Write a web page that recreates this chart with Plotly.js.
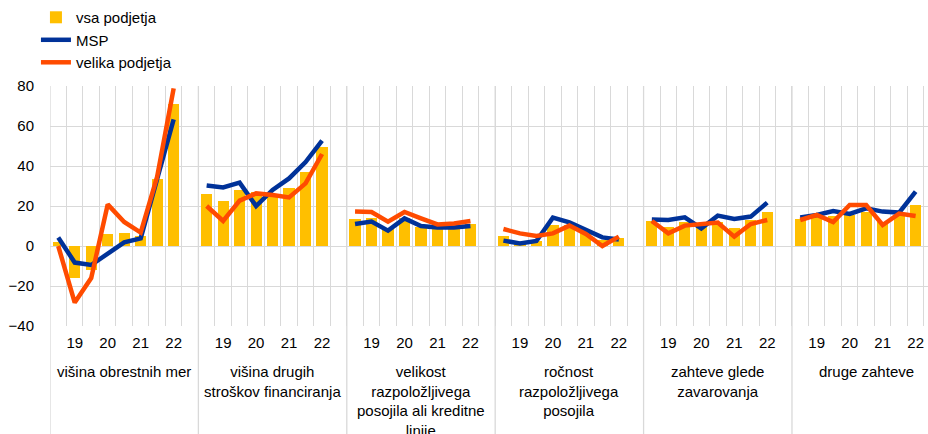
<!DOCTYPE html>
<html>
<head>
<meta charset="utf-8">
<script src="https://cdn.plot.ly/plotly-3.0.1.min.js"></script>
<style>html,body{margin:0;padding:0;background:#fff;}#chart{width:928px;height:434px;}</style>
</head>
<body>
<div id="chart"></div>
<script>
// Categories (groups) shown below the axis
const categories = [
  "višina obrestnih mer",
  "višina drugih<br>stroškov financiranja",
  "velikost<br>razpoložljivega<br>posojila ali kreditne<br>linije",
  "ročnost<br>razpoložljivega<br>posojila",
  "zahteve glede<br>zavarovanja",
  "druge zahteve"
];
// Year tick labels within each group (at period index 1,3,5,7)
const yearLabels = ["19", "20", "21", "22"];
const yearLabelIdx = [1, 3, 5, 7];

// vsa podjetja (bars), per group, 8 half-year periods
const allFirms = [
  [2, -16, -12, 6, 6.5, 5, 33.5, 71],
  [25.8, 22.3, 28, 27, 25, 29, 37, 49.3],
  [13.5, 13.8, 9, 13.8, 9.7, 10, 10, 11],
  [5, 2, 2.5, 10.5, 10.5, 6.3, 3, 3.8],
  [12.5, 9.7, 12, 9.7, 12, 8.8, 13, 16.8],
  [13.5, 15.5, 15, 15.5, 17.2, 12, 15.5, 20.5]
];
// MSP (lines)
const sme = [
  [4.3, -8.3, -9.5, -4, 1.8, 3.8, 33, 63.3],
  [30.3, 29.3, 31.7, 20, 28, 33.8, 42, 52.7],
  [11, 12.2, 7.7, 13.8, 10, 9.2, 9.2, 10],
  [2.7, 1.3, 2.5, 14.2, 11.8, 8, 4.3, 3.3],
  [13.3, 13, 14.3, 8.8, 15.2, 13.5, 14.7, 21.7],
  [14.3, 15.5, 17.5, 16, 18.8, 17.2, 16.7, 27.2]
];
// velika podjetja (lines)
const large = [
  [0, -28.3, -16, 20.8, 12, 6.7, 34.7, 78.8],
  [20, 12.5, 22.7, 26.3, 25.5, 24.3, 31.3, 46],
  [17.2, 17, 12.2, 17, 13.8, 10.8, 11.3, 12.5],
  [8.5, 6.3, 5, 6.3, 10.2, 6, 0, 4.7],
  [12.5, 6.3, 10.2, 11, 11.7, 4.7, 11, 13],
  [13, 15.5, 12, 20.5, 20.5, 10.5, 16.2, 15]
];

const SLOTS = 9; // 8 periods + 1 empty slot per group
const FONT = "Liberation Sans, Arial, sans-serif";

// Build x positions (with null breaks between groups for lines)
const barX = [], barY = [];
const lineX = [], smeY = [], largeY = [];
allFirms.forEach((grp, g) => {
  grp.forEach((v, s) => {
    const x = g * SLOTS + s + 0.5;
    barX.push(x); barY.push(v);
    lineX.push(x); smeY.push(sme[g][s]); largeY.push(large[g][s]);
  });
  lineX.push(g * SLOTS + 8.5); smeY.push(null); largeY.push(null);
});

const tickvals = [], ticktext = [];
categories.forEach((c, g) => {
  yearLabelIdx.forEach((s, k) => {
    tickvals.push(g * SLOTS + s + 0.5);
    ticktext.push(yearLabels[k]);
  });
});

const traces = [
  {type: "bar", name: "vsa podjetja", x: barX, y: barY, width: 0.68,
   marker: {color: "#FFBF00"}, hoverinfo: "skip"},
  {type: "scatter", mode: "lines", name: "MSP", x: lineX, y: smeY,
   connectgaps: false, line: {color: "#003299", width: 4.5}, hoverinfo: "skip"},
  {type: "scatter", mode: "lines", name: "velika podjetja", x: lineX, y: largeY,
   connectgaps: false, line: {color: "#FF4B00", width: 4.5}, hoverinfo: "skip"}
];

const shapes = categories.map((c, g) => ({
  type: "line", xref: "x", yref: "paper",
  x0: g * SLOTS, x1: g * SLOTS, y0: -0.45, y1: 1,
  line: {color: "#D9D9D9", width: 1.3}, layer: "below"
}));

const annotations = categories.map((c, g) => ({
  text: c, xref: "x", yref: "paper", x: g * SLOTS + 4.5, y: -0.146,
  xanchor: "center", yanchor: "top", showarrow: false, align: "center",
  font: {family: FONT, size: 15, color: "#000"}
}));

const layout = {
  width: 928, height: 434,
  margin: {l: 50, r: 0, t: 86, b: 108, pad: 0},
  paper_bgcolor: "#fff", plot_bgcolor: "#fff",
  font: {family: FONT, size: 15, color: "#000"},
  showlegend: true,
  legend: {x: -0.016, y: 1.354, xanchor: "left", yanchor: "top",
    bgcolor: "rgba(0,0,0,0)", font: {family: FONT, size: 15, color: "#000"},
    tracegroupgap: 0, itemwidth: 30},
  bargap: 0,
  xaxis: {
    range: [0, 53.25], tickmode: "array", tickvals: tickvals, ticktext: ticktext,
    showgrid: false, zeroline: false, showline: false,
    ticks: "outside", ticklen: 3, tickcolor: "rgba(0,0,0,0)",
    tickfont: {family: FONT, size: 15, color: "#000"},
    minor: {tickmode: "linear", tick0: 0, dtick: 1, showgrid: true,
      gridcolor: "#D9D9D9", gridwidth: 1, ticks: ""}
  },
  yaxis: {
    range: [-40, 80], tickmode: "linear", tick0: -40, dtick: 20,
    showgrid: true, gridcolor: "#D9D9D9", gridwidth: 1,
    zeroline: true, zerolinecolor: "#D9D9D9", zerolinewidth: 1,
    showline: false, ticks: "outside", ticklen: 12, tickcolor: "rgba(0,0,0,0)",
    tickfont: {family: FONT, size: 15, color: "#000"}
  },
  shapes: shapes,
  annotations: annotations
};

Plotly.newPlot("chart", traces, layout, {staticPlot: true, displayModeBar: false});
</script>
</body>
</html>
